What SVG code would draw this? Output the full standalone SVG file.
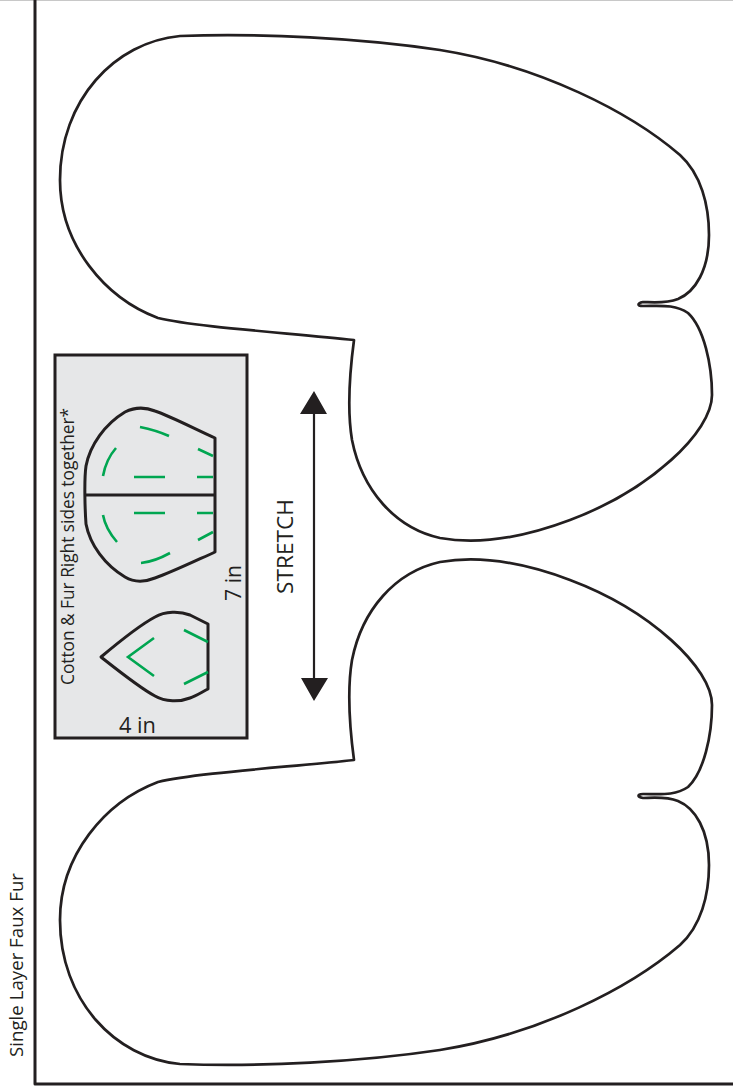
<svg xmlns="http://www.w3.org/2000/svg" xmlns:xlink="http://www.w3.org/1999/xlink" width="733" height="1090" viewBox="0 0 733 1090">
<style>
.o{fill:none;stroke:#231f20;stroke-width:2.7;stroke-linejoin:round;stroke-linecap:round}
.p{fill:none;stroke:#231f20;stroke-width:3;stroke-linejoin:round}
.g{fill:none;stroke:#00a651;stroke-width:2.6}
.t{font-family:"Open Sans","Noto Sans","Liberation Sans",sans-serif;fill:#231f20}
</style>
<defs>
<path id="mitten" d="M354 340 C290 333 195 327 158 318 C105 298 60 245 60 180 C60 100 115 42 180 36 C260 33 360 38 440 50 C540 66 630 112 680 155 C701 174 709 205 709 235 C709 270 695 292 678 299 C665 304 650 302 643 302 C637 303 637 306 643 306 C660 306 675 304 688 313 C704 328 712 365 712 395 C712 432 650 490 570 520 C525 537 480 545 440 538 C395 528 362 490 352 440 C347 410 350 370 354 340 Z"/>
</defs>
<rect x="0" y="0" width="733" height="1" fill="#c8c8c8"/>
<g id="frame"><path class="p" d="M35 0 V1084 H733"/></g>
<g id="mitten-top"><use xlink:href="#mitten" class="o"/></g>
<g id="mitten-bottom"><use xlink:href="#mitten" class="o" transform="matrix(1 0 0 -1 0 1100)"/></g>
<g id="panel">
<rect x="55" y="355" width="192" height="383" fill="#e6e7e8" stroke="#231f20" stroke-width="3"/>
<text class="t" font-size="18" transform="translate(74 685) rotate(-90)" textLength="277" lengthAdjust="spacingAndGlyphs">Cotton &amp; Fur Right sides together*</text>
<text class="t" font-size="21" x="119" y="733" textLength="37" lengthAdjust="spacingAndGlyphs">4 in</text>
<text class="t" font-size="21" transform="translate(241 601) rotate(-90)" textLength="36" lengthAdjust="spacingAndGlyphs">7 in</text>
</g>
<g id="piece-large">
<path class="p" d="M215 438 C195 429 170 416 155 411 C145 407 135 407 125 412 C105 424 90 445 86 466 C84 480 85 510 86 524 C90 545 105 565 125 577 C135 583 145 582 155 578 C170 573 195 561 215 552 Z M85 495 H215"/>
<path class="g" d="M140 427 C150 429 160 432 169 436 M116 448 C109 456 105 465 103 476 M134 477 H165 M197 477 H213 M198 449 L213 456 M134 513 H165 M197 513 H213 M198 540 L213 532 M103 515 C105 526 110 534 117 542 M141 563 C151 562 161 558 170 553"/>
</g>
<g id="piece-small">
<path class="p" d="M101 657 C120 641 140 625 155 617 C165 611 180 611 190 615 C196 618 202 621 208 624 V689 C202 692 196 696 190 698 C180 702 165 702 155 696 C140 688 120 672 101 657 Z"/>
<path class="g" d="M154 638 L128 657 L154 676 M184 630 L208 642 M184 684 L208 672"/>
</g>
<g id="connectors">
<path d="M314 410 V682" fill="none" stroke="#231f20" stroke-width="2.2"/>
<path d="M314 391 L327 414 H300 Z M314 701 L328 678 H301 Z" fill="#231f20"/>
</g>
<g id="labels">
<text class="t" font-size="21.5" transform="translate(293 594) rotate(-90)" textLength="95" lengthAdjust="spacingAndGlyphs">STRETCH</text>
<text class="t" font-size="18" transform="translate(23 1057) rotate(-90)" textLength="184" lengthAdjust="spacingAndGlyphs">Single Layer Faux Fur</text>
</g>
</svg>
